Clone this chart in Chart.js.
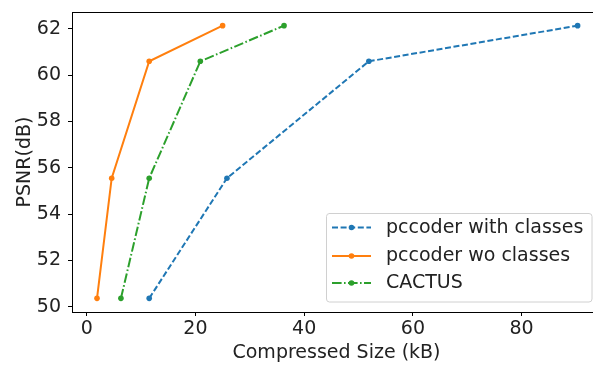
<!DOCTYPE html>
<html>
<head>
<meta charset="utf-8">
<script src="https://cdn.jsdelivr.net/npm/chart.js@4.4.0/dist/chart.umd.min.js"></script>
<style>
html,body{margin:0;padding:0;background:#fff;overflow:hidden;}
#wrap{width:605px;height:365px;}
</style>
</head>
<body>
<div id="wrap"><canvas id="c" width="605" height="365"></canvas></div>
<script>
const seriesNames = ["pccoder with classes", "pccoder wo classes", "CACTUS"];
const withClassesX = [11.5, 25.8, 51.9, 90.3];
const withClassesY = [50.36, 55.55, 60.6, 62.14];
const woClassesX = [1.9, 4.6, 11.5, 25.0];
const woClassesY = [50.36, 55.55, 60.6, 62.14];
const cactusX = [6.3, 11.5, 20.9, 36.3];
const cactusY = [50.36, 55.55, 60.6, 62.14];
const xTicks = [0, 20, 40, 60, 80];
const yTicks = [50, 52, 54, 56, 58, 60, 62];

const pts = (xs, ys) => xs.map((x, i) => ({x: x, y: ys[i]}));
const FONT = "'DejaVu Sans', sans-serif";
const FS = 19;

const datasets = [
  {label: seriesNames[0], data: pts(withClassesX, withClassesY), borderColor: '#1f77b4', backgroundColor: '#1f77b4', borderDash: [6, 2.6]},
  {label: seriesNames[1], data: pts(woClassesX, woClassesY), borderColor: '#ff7f0e', backgroundColor: '#ff7f0e', borderDash: []},
  {label: seriesNames[2], data: pts(cactusX, cactusY), borderColor: '#2ca02c', backgroundColor: '#2ca02c', borderDash: [9.6, 2.4, 1.6, 2.4]}
].map(d => Object.assign(d, {showLine: true, borderWidth: 2, pointRadius: 2.8, pointBorderWidth: 0, pointHoverRadius: 2.8, tension: 0, fill: false}));

const framePlugin = {
  id: 'frame',
  afterDraw(chart) {
    const ctx = chart.ctx, a = chart.chartArea;
    ctx.save();
    ctx.strokeStyle = '#000';
    ctx.lineWidth = 1;
    ctx.strokeRect(Math.round(a.left) + 0.5, Math.round(a.top) + 0.5, Math.round(a.right - a.left), Math.round(a.bottom - a.top));
    ctx.restore();

    // legend
    const bx = 326, by = 213, bw = 266, bh = 89, r = 3;
    ctx.save();
    ctx.fillStyle = 'rgba(255,255,255,0.8)';
    ctx.strokeStyle = '#d0d0d0';
    ctx.lineWidth = 1;
    ctx.beginPath();
    ctx.moveTo(bx + r, by + 0.5);
    ctx.arcTo(bx + bw, by + 0.5, bx + bw, by + bh, r);
    ctx.arcTo(bx + bw, by + bh, bx, by + bh, r);
    ctx.arcTo(bx + 0.5, by + bh, bx + 0.5, by, r);
    ctx.arcTo(bx + 0.5, by + 0.5, bx + bw, by + 0.5, r);
    ctx.closePath();
    ctx.fill();
    ctx.stroke();
    const rows = [227.5, 256, 283];
    chart.data.datasets.forEach((d, i) => {
      const y = rows[i];
      ctx.strokeStyle = d.borderColor;
      ctx.lineWidth = 2;
      ctx.setLineDash(d.borderDash);
      ctx.beginPath();
      ctx.moveTo(332, y);
      ctx.lineTo(371, y);
      ctx.stroke();
      ctx.setLineDash([]);
      ctx.fillStyle = d.borderColor;
      ctx.beginPath();
      ctx.arc(351.5, y, 2.8, 0, Math.PI * 2);
      ctx.fill();
      ctx.fillStyle = '#222';
      ctx.font = FS + 'px ' + FONT;
      ctx.textBaseline = 'middle';
      ctx.textAlign = 'left';
      ctx.fillText(d.label, 386, y + 0.5);
    });
    ctx.restore();
  }
};

new Chart(document.getElementById('c'), {
  type: 'scatter',
  data: {datasets: datasets},
  plugins: [framePlugin],
  options: {
    responsive: false,
    animation: false,
    layout: {padding: {top: 12, right: 4, left: 0, bottom: 0}},
    plugins: {legend: {display: false}, tooltip: {enabled: false}},
    scales: {
      x: {
        type: 'linear', min: -2.7, max: 94.6,
        afterBuildTicks: ax => { ax.ticks = xTicks.map(v => ({value: v})); },
        afterFit: ax => { ax.height = 53; ax.paddingLeft = 0; ax.paddingRight = 0; },
        grid: {drawOnChartArea: false, drawTicks: true, tickLength: 4, color: '#000', tickWidth: 1},
        border: {display: true, color: '#000', width: 1},
        ticks: {color: '#222', font: {family: FONT, size: FS}, padding: 2, maxRotation: 0},
        title: {display: true, text: 'Compressed Size (kB)', color: '#222', font: {family: FONT, size: FS}, padding: {top: 0, bottom: 1}}
      },
      y: {
        type: 'linear', min: 49.77, max: 62.73,
        afterBuildTicks: ax => { ax.ticks = yTicks.map(v => ({value: v})); },
        afterFit: ax => { ax.width = 72; ax.paddingTop = 0; ax.paddingBottom = 0; },
        grid: {drawOnChartArea: false, drawTicks: true, tickLength: 4, color: '#000', tickWidth: 1},
        border: {display: true, color: '#000', width: 1},
        ticks: {color: '#222', font: {family: FONT, size: FS}, padding: 7},
        title: {display: true, text: 'PSNR(dB)', color: '#222', font: {family: FONT, size: FS}, padding: {top: 14, bottom: 0}}
      }
    }
  }
});
</script>
</body>
</html>
